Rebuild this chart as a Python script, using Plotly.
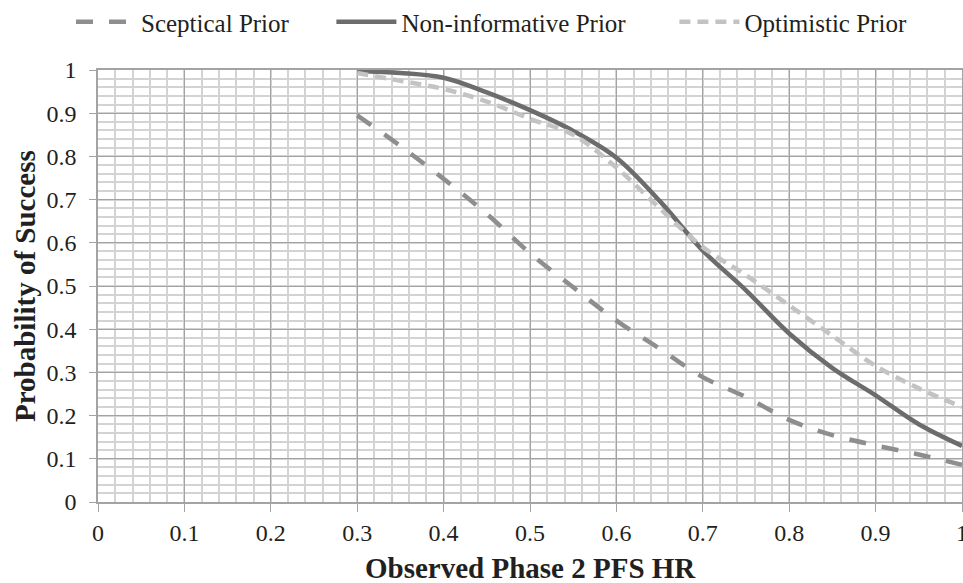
import plotly.graph_objects as go

hr = [0.30, 0.35, 0.40, 0.45, 0.50, 0.55, 0.60, 0.65, 0.70, 0.75, 0.80, 0.85, 0.90, 0.95, 1.00]
sceptical = [0.895, 0.824, 0.748, 0.667, 0.576, 0.497, 0.420, 0.355, 0.289, 0.243, 0.190, 0.155, 0.131, 0.110, 0.086]
noninformative = [0.997, 0.993, 0.982, 0.948, 0.907, 0.859, 0.797, 0.697, 0.582, 0.490, 0.390, 0.310, 0.247, 0.180, 0.130]
optimistic = [0.993, 0.975, 0.956, 0.927, 0.887, 0.850, 0.774, 0.680, 0.590, 0.525, 0.455, 0.385, 0.315, 0.263, 0.220]

x_ticks = [0, 0.1, 0.2, 0.3, 0.4, 0.5, 0.6, 0.7, 0.8, 0.9, 1]
x_labels = ["0", "0.1", "0.2", "0.3", "0.4", "0.5", "0.6", "0.7", "0.8", "0.9", "1"]
y_ticks = [0, 0.1, 0.2, 0.3, 0.4, 0.5, 0.6, 0.7, 0.8, 0.9, 1]
y_labels = ["0", "0.1", "0.2", "0.3", "0.4", "0.5", "0.6", "0.7", "0.8", "0.9", "1"]
x_title = "Observed Phase 2 PFS HR"
y_title = "Probability of Success"

FONT = "Liberation Serif"
TXT = "#231f20"
NB = "\u00a0"  # spacing between legend entries

fig = go.Figure()
fig.add_trace(go.Scatter(x=hr, y=sceptical, mode="lines", name="Sceptical Prior" + NB * 6,
                         line=dict(color="#8e8e8e", width=4.5, dash="17px,16px", shape="spline")))
fig.add_trace(go.Scatter(x=hr, y=noninformative, mode="lines", name="Non-informative Prior" + NB * 7,
                         line=dict(color="#6c6c6c", width=4.5, shape="spline")))
fig.add_trace(go.Scatter(x=hr, y=optimistic, mode="lines", name="Optimistic Prior",
                         line=dict(color="#c3c3c3", width=4.5, dash="11px,7px", shape="spline")))

fig.update_layout(
    width=963, height=583,
    margin=dict(l=98, r=1, t=70, b=81, autoexpand=False),
    paper_bgcolor="white", plot_bgcolor="white",
    font=dict(family=FONT, size=24, color=TXT),
    showlegend=True,
    legend=dict(orientation="h", x=71 / 963, xref="container", y=1 - 22 / 583, yref="container",
                yanchor="middle", xanchor="left", font=dict(size=25, family=FONT, color=TXT),
                itemwidth=60, tracegroupgap=0, bgcolor="rgba(0,0,0,0)"),
    annotations=[
        dict(text="<b>" + x_title + "</b>", xref="paper", yref="paper", x=0.5, y=(502 - 568) / 432,
             xanchor="center", yanchor="middle", showarrow=False,
             font=dict(size=29, family=FONT, color=TXT)),
        dict(text="<b>" + y_title + "</b>", xref="paper", yref="paper", x=(25 - 98) / 864, y=0.5,
             xanchor="center", yanchor="middle", showarrow=False, textangle=-90,
             font=dict(size=29, family=FONT, color=TXT)),
    ],
)
fig.update_xaxes(
    range=[0, 1], tickvals=x_ticks, ticktext=x_labels, automargin=False,
    showgrid=True, gridcolor="#a3a3a3", gridwidth=1.3,
    minor=dict(dtick=0.02, showgrid=True, gridcolor="#d3d3d3", gridwidth=1.6, ticks=""),
    ticks="outside", ticklen=8, tickcolor="#a3a3a3", tickwidth=1.3,
    showline=True, linecolor="#a3a3a3", linewidth=1.5, mirror=True,
    zeroline=False, ticklabeloverflow="allow",
    tickfont=dict(size=24, family=FONT, color=TXT),
)
fig.update_yaxes(
    range=[0, 1], tickvals=y_ticks, ticktext=y_labels, automargin=False,
    showgrid=True, gridcolor="#a3a3a3", gridwidth=1.3,
    minor=dict(dtick=0.02, showgrid=True, gridcolor="#d3d3d3", gridwidth=1.6, ticks=""),
    ticks="outside", ticklen=7, tickcolor="#a3a3a3", tickwidth=1.3,
    showline=True, linecolor="#a3a3a3", linewidth=1.5, mirror=True,
    zeroline=False, ticklabeloverflow="allow",
    tickfont=dict(size=24, family=FONT, color=TXT),
    ticklabelstandoff=8,
)

fig.write_html(
    "out.html",
    config={"displayModeBar": False},
    post_script="document.body.style.margin='0px';document.documentElement.style.overflow='hidden';",
)
